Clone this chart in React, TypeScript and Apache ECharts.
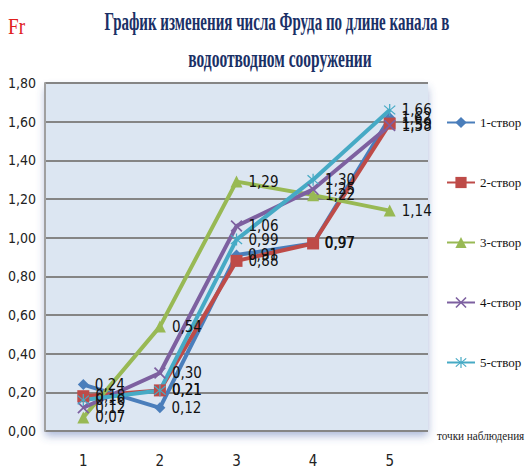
import React, { useEffect, useRef } from "react";
import * as echarts from "echarts";

const categories = ["1", "2", "3", "4", "5"];
const seriesNames = ["1-створ", "2-створ", "3-створ", "4-створ", "5-створ"];
const s1 = [0.24, 0.12, 0.91, 0.97, 1.62];
const s2 = [0.18, 0.21, 0.88, 0.97, 1.59];
const s3 = [0.07, 0.54, 1.29, 1.22, 1.14];
const s4 = [0.12, 0.3, 1.06, 1.25, 1.58];
const s5 = [0.16, 0.21, 0.99, 1.3, 1.66];
const seriesData = [s1, s2, s3, s4, s5];
const colors = ["#4a7ebb", "#be4b48", "#98b954", "#7d60a0", "#46aac5"];
const titleLines = ["График изменения числа Фруда по длине канала в", "водоотводном сооружении"];
const yLabel = "Fr";
const xName = "точки наблюдения";

const xPath = "path://M1,0 L5,4 L9,0 L10,1 L6,5 L10,9 L9,10 L5,6 L1,10 L0,9 L4,5 L0,1 Z";
const starPath =
  "path://M1,1 L4.5,4.3 L4.5,0 L5.5,0 L5.5,4.3 L9,1 L9.7,1.7 L6,5 L9.7,8.3 L9,9 L5.5,5.7 L5.5,10 L4.5,10 L4.5,5.7 L1,9 L0.3,8.3 L4,5 L0.3,1.7 Z";
const symbols = ["diamond", "rect", "triangle", xPath, starPath];
const symbolSizes = [11, 12, 12, 12, 12];

const fmt = (v: number) => v.toFixed(2).replace(".", ",");

export default function App() {
  const ref = useRef<HTMLDivElement>(null);
  useEffect(() => {
    const chart = echarts.init(ref.current!, undefined, { renderer: "svg" });
    const narrow = "'DejaVu Sans Condensed', 'Liberation Sans Narrow', 'Arial Narrow', sans-serif";
    chart.setOption({
      animation: false,
      color: colors,
      grid: {
        left: 45,
        top: 83,
        right: 98,
        bottom: 35,
        show: true,
        backgroundColor: "#dce6f2",
        borderWidth: 0,
        shadowColor: "rgba(70,100,170,0.45)",
        shadowBlur: 8,
        shadowOffsetY: 5,
      },
      xAxis: {
        type: "category",
        data: categories,
        boundaryGap: true,
        axisLine: { show: false },
        axisTick: { show: false },
        axisLabel: { margin: 22, fontSize: 15, color: "#222", fontFamily: narrow },
      },
      yAxis: {
        type: "value",
        min: 0,
        max: 1.8,
        interval: 0.2,
        axisLine: { show: true, lineStyle: { color: "#a0a0a0", width: 2 } },
        axisTick: { show: false },
        splitLine: { lineStyle: { color: "#858585", width: 2 } },
        axisLabel: { formatter: fmt, fontSize: 14, color: "#222", fontFamily: narrow, margin: 9 },
      },
      legend: {
        orient: "vertical",
        left: 441,
        top: 111,
        itemWidth: 28,
        itemHeight: 14,
        itemGap: 47,
        data: seriesNames,
        textStyle: { fontFamily: "'Liberation Serif', serif", fontSize: 13, color: "#111" },
      },
      series: seriesData.map((d, i) => ({
        name: seriesNames[i],
        type: "line",
        data: d,
        symbol: symbols[i],
        symbolSize: symbolSizes[i],
        lineStyle: { width: 4, color: colors[i] },
        itemStyle: { color: colors[i] },
        label: {
          show: true,
          position: "right",
          distance: 6,
          formatter: (p: any) => fmt(p.value),
          fontSize: 15,
          color: "#111",
          fontFamily: narrow,
        },
      })),
      graphic: [
        {
          type: "text",
          x: 8,
          y: 14,
          scaleX: 0.8,
          style: { text: yLabel, font: "24px 'Liberation Serif', serif", fill: "#e0201e" },
        },
        {
          type: "text",
          x: 277,
          y: 9,
          scaleX: 0.6,
          style: {
            text: titleLines[0],
            font: "bold 25px 'Liberation Serif', serif",
            fill: "#1a3066",
            textAlign: "center",
          },
        },
        {
          type: "text",
          x: 280,
          y: 45,
          scaleX: 0.62,
          style: {
            text: titleLines[1],
            font: "bold 25px 'Liberation Serif', serif",
            fill: "#1a3066",
            textAlign: "center",
          },
        },
        {
          type: "text",
          x: 437,
          y: 429,
          scaleX: 0.86,
          style: { text: xName, font: "13px 'Liberation Serif', serif", fill: "#222" },
        },
      ],
    });
    return () => chart.dispose();
  }, []);
  return <div ref={ref} style={{ position: "absolute", left: 0, top: 0, width: 526, height: 468 }} />;
}
